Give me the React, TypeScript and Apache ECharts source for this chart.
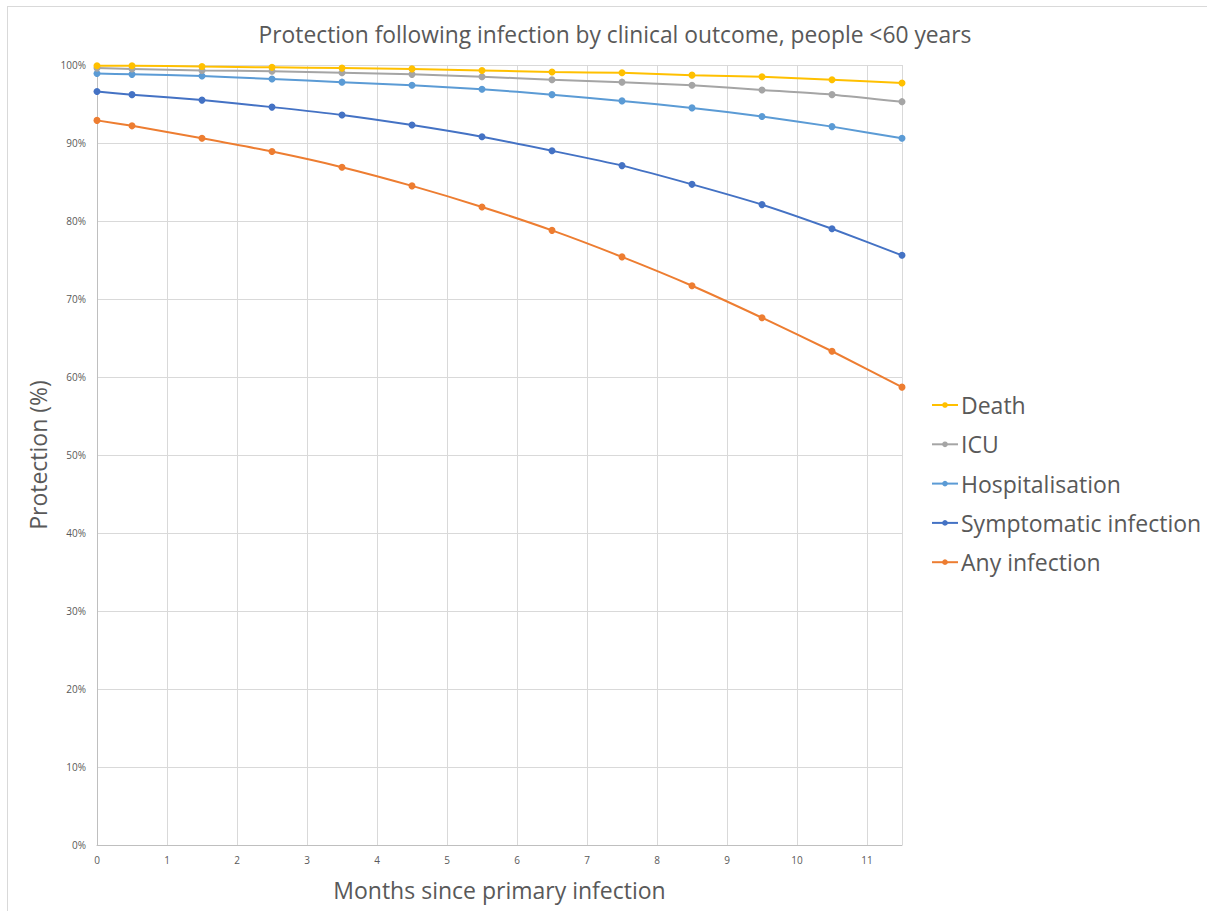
import React, { useEffect, useRef } from "react";
import * as echarts from "echarts";

const months = [0, 0.5, 1.5, 2.5, 3.5, 4.5, 5.5, 6.5, 7.5, 8.5, 9.5, 10.5, 11.5];
const seriesNames = ["Death", "ICU", "Hospitalisation", "Symptomatic infection", "Any infection"];
const death = [99.9, 99.9, 99.8, 99.7, 99.6, 99.5, 99.3, 99.1, 99.0, 98.7, 98.5, 98.1, 97.7];
const icu = [99.6, 99.5, 99.3, 99.2, 99.0, 98.8, 98.5, 98.1, 97.8, 97.4, 96.8, 96.2, 95.3];
const hospitalisation = [98.9, 98.8, 98.6, 98.2, 97.8, 97.4, 96.9, 96.2, 95.4, 94.5, 93.4, 92.1, 90.6];
const symptomatic = [96.6, 96.2, 95.5, 94.6, 93.6, 92.3, 90.8, 89.0, 87.1, 84.7, 82.1, 79.0, 75.6];
const anyInfection = [92.9, 92.2, 90.6, 88.9, 86.9, 84.5, 81.8, 78.8, 75.4, 71.7, 67.6, 63.3, 58.7];
const colors = ["#FFC000", "#A5A5A5", "#5B9BD5", "#4472C4", "#ED7D31"];

const FONT = "'Open Sans', 'Noto Sans', sans-serif";
const TXT = "#595959";

export default function App() {
  const ref = useRef<HTMLDivElement>(null);
  useEffect(() => {
    document.body.style.margin = "0";
    const chart = echarts.init(ref.current!, null, { renderer: "svg" });
    const all = [death, icu, hospitalisation, symptomatic, anyInfection];
    chart.setOption({
      animation: false,
      backgroundColor: "#ffffff",
      textStyle: { fontFamily: FONT },
      title: {
        text: "Protection following infection by clinical outcome, people <60 years",
        left: 610,
        textAlign: "center",
        top: 18,
        textStyle: { fontFamily: FONT, fontSize: 22.8, fontWeight: "normal", color: TXT },
      },
      graphic: [
        { type: "line", shape: { x1: 7, y1: 6.5, x2: 1207, y2: 6.5 }, style: { stroke: "#d9d9d9", lineWidth: 1 } },
        { type: "line", shape: { x1: 7.5, y1: 6, x2: 7.5, y2: 911 }, style: { stroke: "#d9d9d9", lineWidth: 1 } },
      ],
      legend: {
        orient: "vertical",
        left: 926,
        top: 387,
        itemWidth: 26,
        itemHeight: 7,
        itemGap: 13.3,
        data: seriesNames,
        textStyle: { fontFamily: FONT, fontSize: 23, color: TXT, lineHeight: 26, padding: [0, 0, 0, -2] },
      },
      grid: { left: 97, right: 305, top: 65, bottom: 66, containLabel: false },
      xAxis: {
        type: "value",
        min: 0,
        max: 11.5,
        interval: 1,
        name: "Months since primary infection",
        nameLocation: "middle",
        nameGap: 33,
        nameTextStyle: { fontFamily: FONT, fontSize: 23, color: TXT },
        axisLine: { show: true, lineStyle: { color: "#bfbfbf", width: 1 } },
        axisTick: { show: false },
        axisLabel: {
          color: TXT,
          fontSize: 10,
          fontFamily: FONT,
          margin: 10,
          showMaxLabel: false,
          formatter: (v: number) => (Number.isInteger(v) ? String(v) : ""),
        },
        splitLine: { show: true, lineStyle: { color: "#d9d9d9", width: 1 } },
      },
      yAxis: {
        type: "value",
        min: 0,
        max: 100,
        interval: 10,
        name: "Protection (%)",
        nameLocation: "middle",
        nameGap: 46,
        nameTextStyle: { fontFamily: FONT, fontSize: 23, color: TXT },
        axisLine: { show: true, lineStyle: { color: "#bfbfbf", width: 1 } },
        axisTick: { show: false },
        axisLabel: { color: TXT, fontSize: 10, fontFamily: FONT, margin: 11, formatter: "{value}%" },
        splitLine: { show: true, lineStyle: { color: "#d9d9d9", width: 1 } },
      },
      series: seriesNames.map((n, i) => ({
        name: n,
        type: "line",
        data: months.map((m, j) => [m, all[i][j]]),
        smooth: 0.2,
        symbol: "circle",
        symbolSize: 7,
        lineStyle: { color: colors[i], width: 2 },
        itemStyle: { color: colors[i] },
        z: 10 - i,
      })),
    });
    return () => chart.dispose();
  }, []);
  return <div ref={ref} style={{ width: 1207, height: 911 }} />;
}
